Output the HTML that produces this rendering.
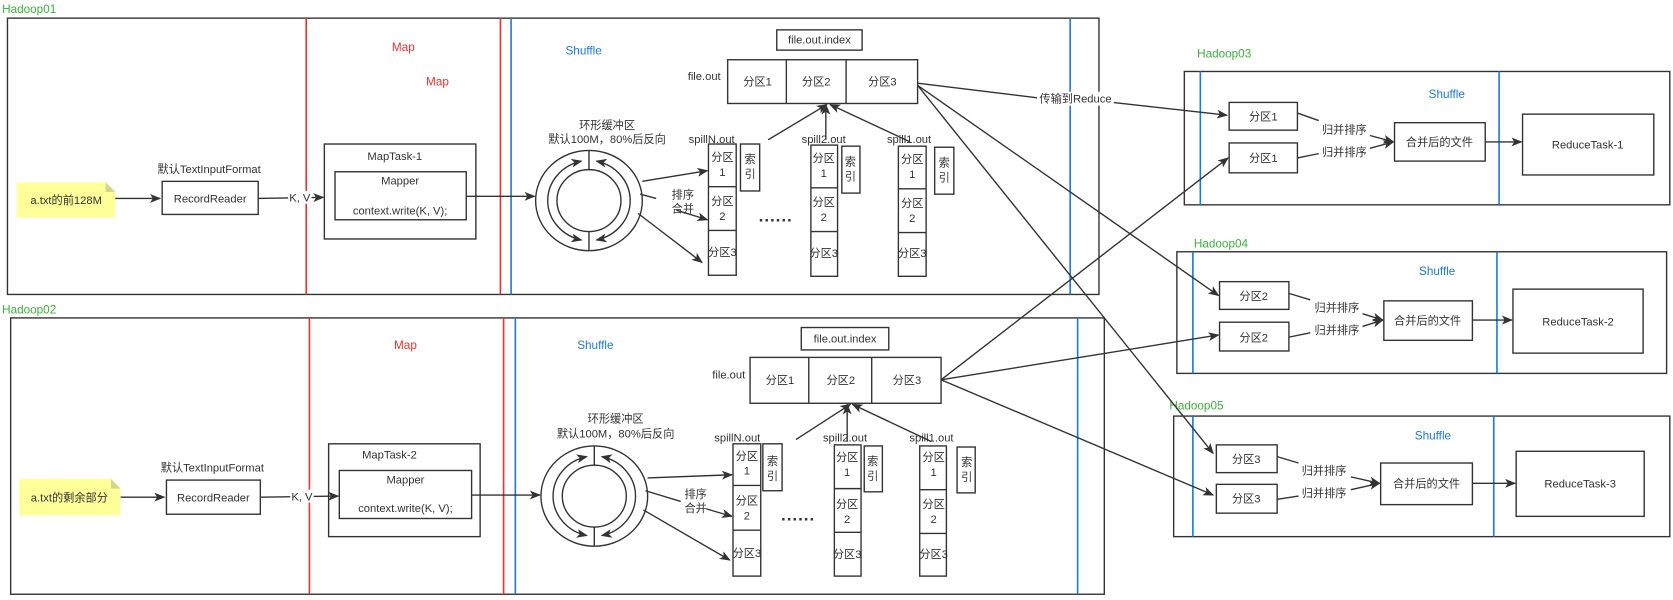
<!DOCTYPE html>
<html><head><meta charset="utf-8"><style>
html,body{margin:0;padding:0;background:#fff;width:1673px;height:600px;overflow:hidden}
svg{display:block}
text{font-family:"Liberation Sans","Noto Sans CJK SC",sans-serif;font-size:10.5px;fill:#333;text-anchor:middle}
.g{fill:#3bb33b;text-anchor:start;font-size:11px}
.r{fill:#f03030;font-size:11px}
.b{fill:#1a7ad8;font-size:11px}
</style></head><body>
<svg width="1673" height="600" viewBox="0 0 1568 562.4" preserveAspectRatio="none" xmlns="http://www.w3.org/2000/svg">
<defs><marker id="a" viewBox="0 0 10 10" refX="9" refY="5" markerWidth="8" markerHeight="8" orient="auto-start-reverse"><path d="M0,1 L10,5 L0,9 L2.5,5 z" fill="#333"/></marker></defs>
<g stroke="#333" stroke-width="1.3" fill="none">
<rect x="7" y="17" width="1023" height="259"/>
<rect x="10" y="298" width="1025" height="259"/>
<rect x="1110" y="67" width="455" height="125"/>
<rect x="1103" y="236" width="459" height="114"/>
<rect x="1100" y="390" width="465" height="113"/>
</g>
<g stroke="#f03030" stroke-width="1.5"><line x1="287" y1="17" x2="287" y2="276"/><line x1="469" y1="17" x2="469" y2="276"/><line x1="290" y1="298" x2="290" y2="557"/><line x1="472" y1="298" x2="472" y2="557"/></g>
<g stroke="#1a7ad8" stroke-width="1.5"><line x1="479" y1="17" x2="479" y2="276"/><line x1="1003" y1="17" x2="1003" y2="276"/><line x1="483" y1="298" x2="483" y2="557"/><line x1="1010" y1="298" x2="1010" y2="557"/>
<line x1="1125" y1="67" x2="1125" y2="192"/><line x1="1405" y1="67" x2="1405" y2="192"/><line x1="1118" y1="236" x2="1118" y2="350"/><line x1="1403" y1="236" x2="1403" y2="350"/><line x1="1118" y1="390" x2="1118" y2="503"/><line x1="1400" y1="390" x2="1400" y2="503"/></g>
<text x="2" y="12" class="g">Hadoop01</text><text x="2" y="294" class="g">Hadoop02</text>
<text x="1122" y="54" class="g">Hadoop03</text><text x="1119" y="232" class="g">Hadoop04</text><text x="1096" y="384" class="g">Hadoop05</text>
<text x="378" y="48" class="r">Map</text><text x="410" y="80" class="r">Map</text><text x="380" y="327" class="r">Map</text>
<text x="547" y="51" class="b">Shuffle</text><text x="558" y="327" class="b">Shuffle</text>
<text x="1356" y="92" class="b">Shuffle</text><text x="1347" y="258" class="b">Shuffle</text><text x="1343" y="412" class="b">Shuffle</text>

<g>
<path d="M16,171 H99 L108,180 V204 H16 z" fill="#ffff99"/><path d="M99,171 L108,180 H99 z" fill="#d4d48a"/>
<text x="62" y="191">a.txt的前128M</text>
<text x="196" y="162">默认TextInputFormat</text>
<g stroke="#333" stroke-width="1.3" fill="none">
<rect x="152" y="170" width="90" height="31"/>
<rect x="304" y="135" width="142" height="89"/><rect x="314" y="161" width="123" height="45"/>
<line x1="108" y1="186" x2="150" y2="186" marker-end="url(#a)"/>
<line x1="242" y1="186" x2="303" y2="185" marker-end="url(#a)"/>
<line x1="437" y1="184" x2="501" y2="184" marker-end="url(#a)"/>
</g>
<rect x="270" y="179" width="22" height="12" fill="#fff"/><text x="281" y="189">K, V</text>
<text x="197" y="190">RecordReader</text><text x="370" y="150">MapTask-1</text><text x="375" y="173">Mapper</text><text x="375" y="201">context.write(K, V);</text>
</g>
<g>
<path d="M18,449 H104 L113,458 V483 H18 z" fill="#ffff99"/><path d="M104,449 L113,458 H104 z" fill="#d4d48a"/>
<text x="65" y="470">a.txt的剩余部分</text>
<text x="199" y="442">默认TextInputFormat</text>
<g stroke="#333" stroke-width="1.3" fill="none">
<rect x="156" y="450" width="88" height="32"/>
<rect x="308" y="416" width="142" height="87"/><rect x="318" y="441" width="124" height="45"/>
<line x1="113" y1="466" x2="154" y2="466" marker-end="url(#a)"/>
<line x1="244" y1="466" x2="317" y2="465" marker-end="url(#a)"/>
<line x1="442" y1="464" x2="506" y2="464" marker-end="url(#a)"/>
</g>
<rect x="272" y="459" width="22" height="12" fill="#fff"/><text x="283" y="469">K, V</text>
<text x="200" y="470">RecordReader</text><text x="365" y="430">MapTask-2</text><text x="380" y="453">Mapper</text><text x="380" y="480">context.write(K, V);</text>
</g>

<g>
<g stroke="#333" stroke-width="1.3" fill="none">
<ellipse cx="552" cy="188" rx="50" ry="47"/><ellipse cx="552" cy="188" rx="30" ry="29"/>
<line x1="552" y1="141" x2="552" y2="159"/><line x1="552" y1="217" x2="552" y2="235"/>
<path d="M545,151 A41,38 0 0 0 545,225" marker-start="url(#a)" marker-end="url(#a)"/>
<path d="M559,151 A41,38 0 0 1 559,225" marker-start="url(#a)" marker-end="url(#a)"/>
<line x1="602" y1="170" x2="663" y2="160" marker-end="url(#a)"/>
<line x1="600" y1="182" x2="615" y2="186"/><line x1="634" y1="197" x2="663" y2="206" marker-end="url(#a)"/>
<line x1="598" y1="200" x2="658" y2="246" marker-end="url(#a)"/>
<rect x="664" y="135" width="26" height="123"/><line x1="664" y1="175" x2="690" y2="175"/><line x1="664" y1="216" x2="690" y2="216"/>
<rect x="694" y="135" width="18" height="44"/>
<rect x="760" y="136" width="25" height="123"/><line x1="760" y1="176" x2="785" y2="176"/><line x1="760" y1="217" x2="785" y2="217"/>
<rect x="789" y="137" width="17" height="44"/>
<rect x="842" y="137" width="26" height="122"/><line x1="842" y1="177" x2="868" y2="177"/><line x1="842" y1="218" x2="868" y2="218"/>
<rect x="876" y="138" width="18" height="44"/>
<rect x="728" y="28" width="80" height="19"/>
<rect x="682" y="56" width="178" height="41"/><line x1="737" y1="56" x2="737" y2="97"/><line x1="793" y1="56" x2="793" y2="97"/>
<line x1="720" y1="131" x2="775" y2="98" marker-end="url(#a)"/>
<line x1="774" y1="131" x2="774" y2="98" marker-end="url(#a)"/>
<line x1="853" y1="133" x2="778" y2="98" marker-end="url(#a)"/>
</g>
<text x="569" y="121">环形缓冲区</text><text x="569" y="134">默认100M，80%后反向</text>
<text x="640" y="186">排序</text><text x="640" y="199">合并</text>
<text x="667" y="134">spillN.out</text><text x="772" y="134">spill2.out</text><text x="852" y="134">spill1.out</text>
<text x="677" y="151">分区</text><text x="677" y="165">1</text><text x="677" y="192">分区</text><text x="677" y="206">2</text><text x="677" y="240">分区3</text>
<text x="703" y="153">索</text><text x="703" y="167">引</text>
<text x="772" y="152">分区</text><text x="772" y="166">1</text><text x="772" y="193">分区</text><text x="772" y="207">2</text><text x="772" y="241">分区3</text>
<text x="797" y="155">索</text><text x="797" y="169">引</text>
<text x="855" y="153">分区</text><text x="855" y="167">1</text><text x="855" y="194">分区</text><text x="855" y="208">2</text><text x="855" y="241">分区3</text>
<text x="885" y="156">索</text><text x="885" y="170">引</text>
<text x="727" y="212" style="font-size:16px;font-weight:bold">······</text>
<text x="768" y="41">file.out.index</text><text x="660" y="75">file.out</text>
<text x="710" y="80">分区1</text><text x="765" y="80">分区2</text><text x="827" y="80">分区3</text>
</g>
<g>
<g stroke="#333" stroke-width="1.3" fill="none">
<ellipse cx="557" cy="465" rx="50" ry="47"/><ellipse cx="557" cy="465" rx="30" ry="29"/>
<line x1="557" y1="418" x2="557" y2="436"/><line x1="557" y1="494" x2="557" y2="512"/>
<path d="M550,428 A41,38 0 0 0 550,502" marker-start="url(#a)" marker-end="url(#a)"/>
<path d="M564,428 A41,38 0 0 1 564,502" marker-start="url(#a)" marker-end="url(#a)"/>
<line x1="607" y1="448" x2="686" y2="445" marker-end="url(#a)"/>
<line x1="605" y1="460" x2="638" y2="470"/><line x1="662" y1="477" x2="686" y2="484" marker-end="url(#a)"/>
<line x1="603" y1="478" x2="684" y2="525" marker-end="url(#a)"/>
<rect x="687" y="416" width="26" height="124"/><line x1="687" y1="455" x2="713" y2="455"/><line x1="687" y1="497" x2="713" y2="497"/>
<rect x="715" y="416" width="18" height="44"/>
<rect x="782" y="417" width="25" height="123"/><line x1="782" y1="458" x2="807" y2="458"/><line x1="782" y1="499" x2="807" y2="499"/>
<rect x="810" y="418" width="17" height="43"/>
<rect x="862" y="418" width="25" height="122"/><line x1="862" y1="459" x2="887" y2="459"/><line x1="862" y1="500" x2="887" y2="500"/>
<rect x="897" y="419" width="17" height="43"/>
<rect x="751" y="307" width="82" height="21"/>
<rect x="703" y="335" width="179" height="43"/><line x1="758" y1="335" x2="758" y2="378"/><line x1="817" y1="335" x2="817" y2="378"/>
<line x1="746" y1="412" x2="797" y2="379" marker-end="url(#a)"/>
<line x1="794" y1="414" x2="794" y2="379" marker-end="url(#a)"/>
<line x1="873" y1="414" x2="799" y2="379" marker-end="url(#a)"/>
</g>
<text x="577" y="396">环形缓冲区</text><text x="577" y="410">默认100M，80%后反向</text>
<text x="652" y="467">排序</text><text x="652" y="480">合并</text>
<text x="691" y="414">spillN.out</text><text x="792" y="414">spill2.out</text><text x="873" y="414">spill1.out</text>
<text x="700" y="431">分区</text><text x="700" y="445">1</text><text x="700" y="473">分区</text><text x="700" y="487">2</text><text x="700" y="522">分区3</text>
<text x="724" y="436">索</text><text x="724" y="450">引</text>
<text x="794" y="432">分区</text><text x="794" y="446">1</text><text x="794" y="476">分区</text><text x="794" y="490">2</text><text x="794" y="523">分区3</text>
<text x="818" y="436">索</text><text x="818" y="450">引</text>
<text x="875" y="432">分区</text><text x="875" y="446">1</text><text x="875" y="476">分区</text><text x="875" y="490">2</text><text x="875" y="523">分区3</text>
<text x="906" y="437">索</text><text x="906" y="451">引</text>
<text x="748" y="492" style="font-size:16px;font-weight:bold">······</text>
<text x="792" y="321">file.out.index</text><text x="683" y="355">file.out</text>
<text x="731" y="360">分区1</text><text x="788" y="360">分区2</text><text x="850" y="360">分区3</text>
</g>

<g stroke="#333" stroke-width="1.3" fill="none">
<path d="M860,78 L975,92" /><path d="M1043,96 L1150,108" marker-end="url(#a)"/>
<line x1="860" y1="80" x2="1142" y2="277" marker-end="url(#a)"/>
<line x1="860" y1="80" x2="1137" y2="425" marker-end="url(#a)"/>
<line x1="882" y1="356" x2="1151" y2="148" marker-end="url(#a)"/>
<line x1="882" y1="356" x2="1142" y2="314" marker-end="url(#a)"/>
<line x1="882" y1="356" x2="1137" y2="464" marker-end="url(#a)"/>
</g>
<rect x="972" y="86" width="72" height="13" fill="#fff"/><text x="1008" y="96">传输到Reduce</text>

<g stroke="#333" stroke-width="1.3" fill="none">
<rect x="1152" y="96" width="64" height="26"/><rect x="1152" y="134" width="64" height="28"/>
<rect x="1307" y="115" width="85" height="36"/><rect x="1427" y="107" width="123" height="57"/>
<path d="M1216,106 L1236,113"/><path d="M1216,148 L1236,144"/><path d="M1284,127 L1306,133" marker-end="url(#a)"/><path d="M1284,139 L1306,133" marker-end="url(#a)"/>
<line x1="1392" y1="133" x2="1426" y2="133" marker-end="url(#a)"/>
<rect x="1143" y="264" width="65" height="26"/><rect x="1143" y="302" width="65" height="27"/>
<rect x="1297" y="282" width="83" height="37"/><rect x="1418" y="271" width="122" height="60"/>
<path d="M1208,275 L1228,281"/><path d="M1208,316 L1228,312"/><path d="M1277,294 L1296,300" marker-end="url(#a)"/><path d="M1277,306 L1296,300" marker-end="url(#a)"/>
<line x1="1380" y1="300" x2="1417" y2="300" marker-end="url(#a)"/>
<rect x="1140" y="417" width="57" height="26"/><rect x="1140" y="454" width="57" height="27"/>
<rect x="1294" y="434" width="86" height="39"/><rect x="1421" y="423" width="120" height="61"/>
<path d="M1197,428 L1217,434"/><path d="M1197,468 L1217,465"/><path d="M1266,447 L1293,453" marker-end="url(#a)"/><path d="M1266,459 L1293,453" marker-end="url(#a)"/>
<line x1="1380" y1="453" x2="1420" y2="453" marker-end="url(#a)"/>
</g>
<text x="1184" y="113">分区1</text><text x="1184" y="152">分区1</text>
<text x="1260" y="125">归并排序</text><text x="1260" y="146">归并排序</text>
<text x="1349" y="137">合并后的文件</text><text x="1488" y="139">ReduceTask-1</text>
<text x="1175" y="281">分区2</text><text x="1175" y="320">分区2</text>
<text x="1253" y="292">归并排序</text><text x="1253" y="313">归并排序</text>
<text x="1338" y="304">合并后的文件</text><text x="1479" y="305">ReduceTask-2</text>
<text x="1168" y="434">分区3</text><text x="1168" y="471">分区3</text>
<text x="1241" y="445">归并排序</text><text x="1241" y="466">归并排序</text>
<text x="1337" y="457">合并后的文件</text><text x="1481" y="457">ReduceTask-3</text>
</svg>
</body></html>
